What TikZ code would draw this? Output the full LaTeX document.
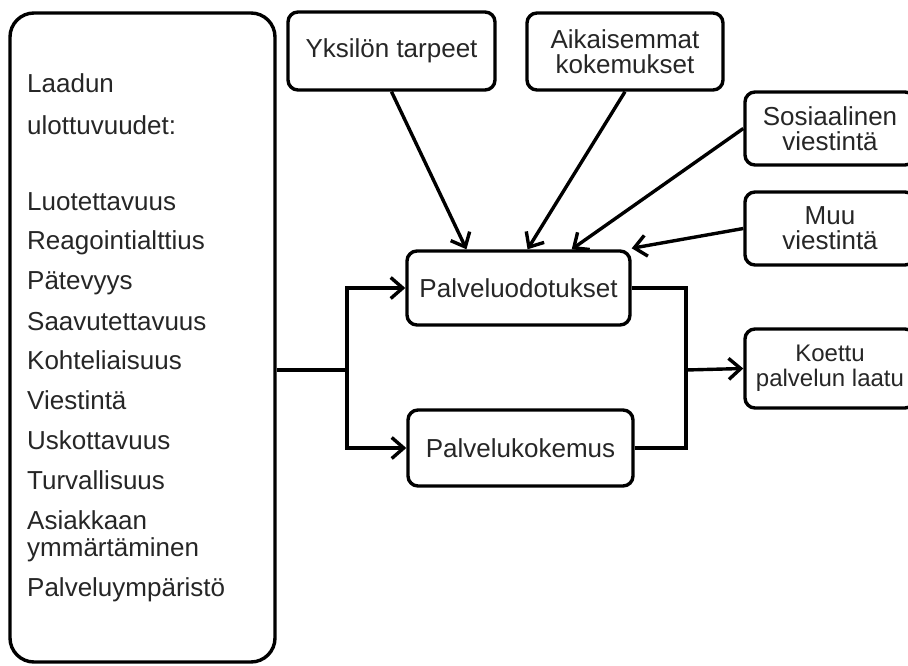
\documentclass[tikz,border=0pt]{standalone}
\usepackage{fontspec}
\setmainfont{Liberation Sans}
\usetikzlibrary{arrows.meta,calc}
\definecolor{txt}{HTML}{262626}
\tikzset{
  box/.style={draw=black, line width=3.4pt, rounded corners=10pt, inner sep=0pt,
    align=center, text=txt, font=\fontsize{26pt}{25pt}\selectfont},
  item/.style={anchor=mid west, inner sep=0pt, text=txt, font=\fontsize{26pt}{25pt}\selectfont},
  conn/.style={draw=black, line width=3.4pt},
  arr/.style={conn, -{Straight Barb[length=12pt,width=21pt]}}
}
\begin{document}
\begin{tikzpicture}[x=1pt,y=-1pt]
\clip (0,0) rectangle (908,666);
\fill[white] (0,0) rectangle (908,666);
% left big box
\node[box, rounded corners=24pt, minimum width=265pt, minimum height=649pt] (ld) at (142.5,337.5) {};
\node[item] (l1) at (27,90) {Laadun};
\node[item] (l2) at (27,132) {ulottuvuudet:};
\node[item] (l3) at (27,208) {Luotettavuus};
\node[item] (l4) at (27,247) {Reagointialttius};
\node[item] (l5) at (27,287) {Pätevyys};
\node[item] (l6) at (27,328) {Saavutettavuus};
\node[item] (l7) at (27,367) {Kohteliaisuus};
\node[item] (l8) at (27,407) {Viestintä};
\node[item] (l9) at (27,447) {Uskottavuus};
\node[item] (l10) at (27,487) {Turvallisuus};
\node[item] (l11) at (27,527) {Asiakkaan};
\node[item] (l12) at (27,554) {ymmärtäminen};
\node[item] (l13) at (27,594) {Palveluympäristö};
% boxes
\node[box, minimum width=207pt, minimum height=78pt] (yt) at (391.5,51) {Yksilön tarpeet};
\node[box, minimum width=196pt, minimum height=77pt] (ak) at (625,51.5) {Aikaisemmat\\kokemukset};
\node[box, minimum width=170pt, minimum height=73pt] (so) at (830,128.5) {Sosiaalinen\\viestintä};
\node[box, minimum width=170pt, minimum height=73pt] (mu) at (830,228.5) {Muu\\viestintä};
\node[box, minimum width=223pt, minimum height=74pt] (po) at (518.5,288) {Palveluodotukset};
\node[box, minimum width=225pt, minimum height=76pt] (pk) at (520.5,448) {Palvelukokemus};
\node[box, minimum width=170pt, minimum height=79pt, font=\fontsize{24pt}{25pt}\selectfont] (ko) at (830,368.5) {Koettu\\palvelun laatu};
% junctions
\coordinate (j1) at (347,370);
\coordinate (j2) at (686,370);
% connectors
\draw[conn] (j1 -| ld.east) -- (j1);
\draw[arr] (j1) |- (po.west);
\draw[arr] (j1) |- (pk.west);
\draw[conn] (po.east) -| (j2);
\draw[conn] (pk.east) -| (j2);
\draw[arr] (j2) -- (ko.west);
\draw[arr] (yt.south) -- ($(po.north west)!0.27!(po.north east)$);
\draw[arr] (ak.south) -- ($(po.north west)!0.54!(po.north east)$);
\draw[arr] (so.west) -- ($(po.north west)!0.735!(po.north east)$);
\draw[arr] (mu.west) -- ($(po.north east)+(0,-1)$);
\end{tikzpicture}
\end{document}
